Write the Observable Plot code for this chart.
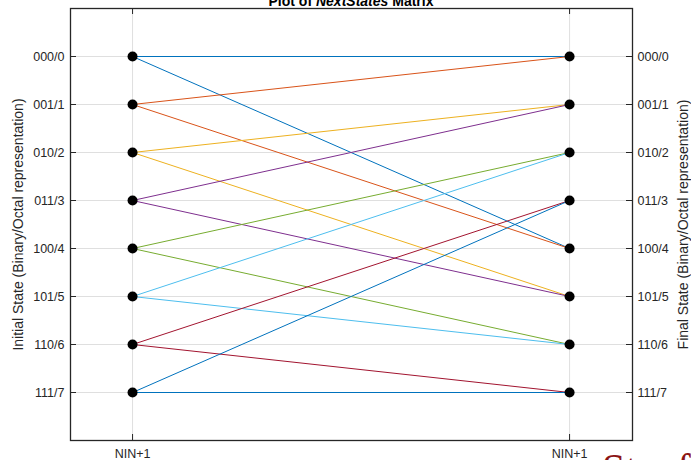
<!DOCTYPE html>
<html>
<head>
<meta charset="utf-8">
<script src="https://cdn.jsdelivr.net/npm/d3@7"></script>
<script src="https://cdn.jsdelivr.net/npm/@observablehq/plot@0.6"></script>
<style>
  html, body { margin: 0; padding: 0; background: #fff; }
  #wrap { position: relative; width: 691px; height: 460px; overflow: hidden; background: #fff; }
  #title {
    position: absolute; left: 0; width: 702px; top: -6px; text-align: center;
    font: bold 14px/14px "Liberation Sans", Arial, sans-serif; color: #000; white-space: nowrap;
  }
  #brand {
    position: absolute; left: 602px; top: 448px; white-space: nowrap;
    font: 42px/42px "Liberation Serif", "Times New Roman", serif; color: #8C1515;
  }
  #chart { position: absolute; left: 0; top: 0; }
</style>
</head>
<body>
<div id="wrap">
  <div id="chart"></div>
  <div id="title">Plot of <i>NextStates</i> Matrix</div>
  <div id="brand">Stanford</div>
</div>
<script>
// State labels (binary/octal) for the 3-bit shift register
const states = ["000/0", "001/1", "010/2", "011/3", "100/4", "101/5", "110/6", "111/7"];
// Each initial state and the two states it can move to (input 0 / input 1)
const fromState = [0, 0, 1, 1, 2, 2, 3, 3, 4, 4, 5, 5, 6, 6, 7, 7];
const toState   = [0, 4, 0, 4, 1, 5, 1, 5, 2, 6, 2, 6, 3, 7, 3, 7];
// Column positions and their labels
const columns = [0, 1];
const columnLabels = ["NIN+1", "NIN+1"];
// Line colour for each initial state (default color order, wrapping)
const lineColors = ["#0072BD", "#D95319", "#EDB120", "#7E2F8E", "#77AC30", "#4DBEEE", "#A2142F", "#0072BD"];

const stateIdx = states.map((_, i) => i);
const edges = fromState.map((f, i) => ({from: f, to: toState[i], color: lineColors[f]}));
const points = columns.flatMap(c => stateIdx.map(s => ({col: c, state: s})));

const W = 691, H = 460, mL = 70, mR = 59, mT = 8, mB = 20;
const innerW = W - mL - mR, innerH = H - mT - mB;
const ink = "#262626", gridColor = "#dfdfdf";

const chart = Plot.plot({
  width: W, height: H,
  marginLeft: mL, marginRight: mR, marginTop: mT, marginBottom: mB,
  style: {fontFamily: "'Liberation Sans', Arial, sans-serif", fontSize: "12px", color: ink, background: "transparent", overflow: "visible"},
  x: {domain: [-0.142, 1.144], axis: null},
  y: {domain: [-1, 8], reverse: true, axis: null},
  marks: [
    Plot.ruleY(stateIdx, {y: d => d, stroke: gridColor, strokeWidth: 1}),
    Plot.ruleX(columns, {x: d => d, stroke: gridColor, strokeWidth: 1}),
    Plot.link(edges, {x1: () => columns[0], x2: () => columns[1], y1: "from", y2: "to", stroke: "color", strokeWidth: 1}),
    // inward tick marks on all four sides
    Plot.tickY(stateIdx, {y: d => d, insetRight: innerW - 6, stroke: ink}),
    Plot.tickY(stateIdx, {y: d => d, insetLeft: innerW - 6, stroke: ink}),
    Plot.tickX(columns, {x: d => d, insetTop: innerH - 6, stroke: ink}),
    Plot.tickX(columns, {x: d => d, insetBottom: innerH - 6, stroke: ink}),
    Plot.frame({stroke: ink, strokeWidth: 1.3}),
    Plot.axisY({ticks: stateIdx, anchor: "left", tickSize: 0, tickPadding: 6, tickFormat: i => states[i], label: null, fontSize: 12.5}),
    Plot.axisY({ticks: stateIdx, anchor: "right", tickSize: 0, tickPadding: 5, tickFormat: i => states[i], label: null, fontSize: 12.5}),
    Plot.axisX({ticks: columns, anchor: "bottom", tickSize: 0, tickPadding: 9, tickFormat: i => columnLabels[i], label: null, fontSize: 12.5}),
    Plot.text(["Initial State (Binary/Octal representation)"], {frameAnchor: "left", textAnchor: "middle", rotate: -90, dx: -52, fontSize: 14, fill: ink}),
    Plot.text(["Final State (Binary/Octal representation)"], {frameAnchor: "right", textAnchor: "middle", rotate: -90, dx: 51, fontSize: 14, fill: ink}),
    Plot.dot(points, {x: "col", y: "state", r: 5, fill: "#000", stroke: "none"})
  ]
});
document.getElementById("chart").appendChild(chart);
</script>
</body>
</html>
